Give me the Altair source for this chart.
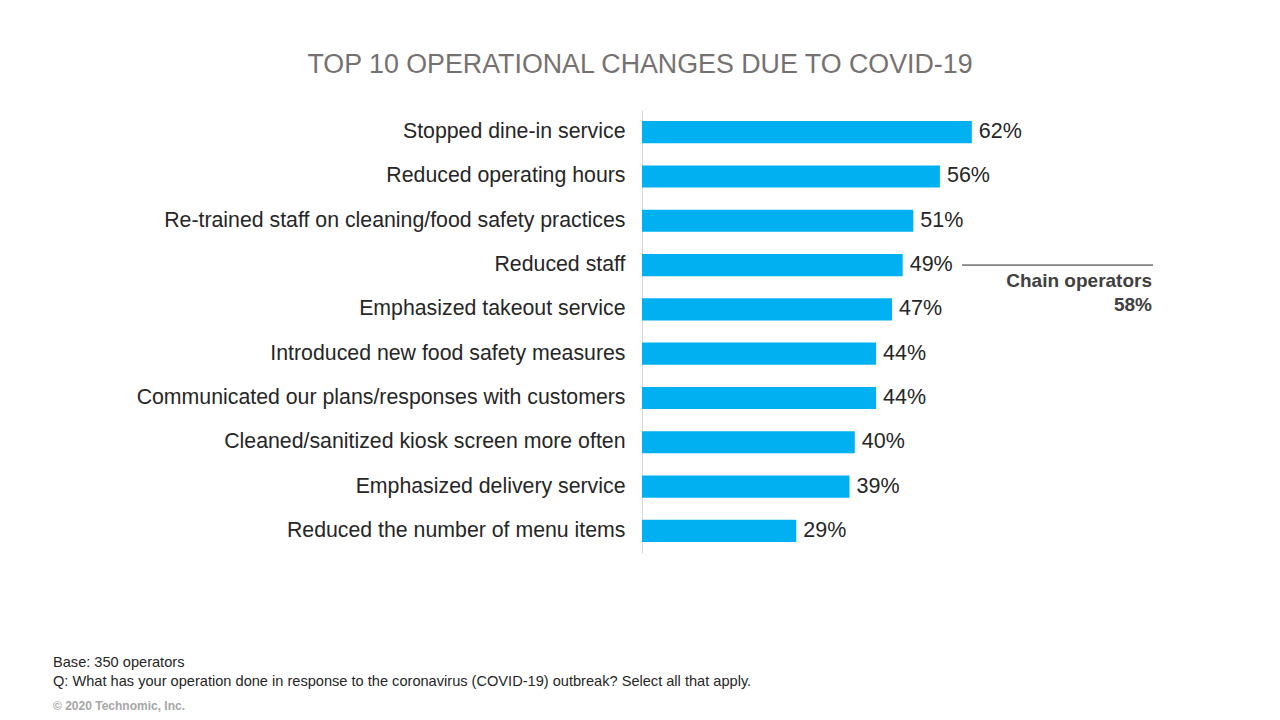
import altair as alt
import pandas as pd

categories = [
    "Stopped dine-in service",
    "Reduced operating hours",
    "Re-trained staff on cleaning/food safety practices",
    "Reduced staff ",
    "Emphasized takeout service",
    "Introduced new food safety measures",
    "Communicated our plans/responses with customers",
    "Cleaned/sanitized kiosk screen more often",
    "Emphasized delivery service",
    "Reduced the number of menu items",
]
values = [62, 56, 51, 49, 47, 44, 44, 40, 39, 29]

title_text = "TOP 10 OPERATIONAL CHANGES DUE TO COVID-19"
foot_lines = [
    "Base: 350 operators",
    "Q: What has your operation done in response to the coronavirus (COVID-19) outbreak? Select all that apply.",
]
copyright_text = "© 2020 Technomic, Inc."
callout_category = "Reduced staff "
callout_lines = ["Chain operators", "58%"]

FONT = "Liberation Sans"

df = pd.DataFrame({"category": categories, "value": values})
df["label"] = df["value"].astype(str) + "%"

y_enc = alt.Y(
    "category:N",
    sort=categories,
    scale=alt.Scale(paddingInner=0.5, paddingOuter=0.25),
    axis=alt.Axis(
        title=None,
        ticks=False,
        labelFontSize=21.3,
        labelColor="#262626",
        labelFont=FONT,
        labelPadding=17,
        labelLimit=600,
        domainColor="#d9d9d9",
        domainWidth=1,
    ),
)
x_enc = alt.X("value:Q", scale=alt.Scale(domain=[0, 100]), axis=None)

bars = alt.Chart(df).mark_bar(color="#00B0F0").encode(x=x_enc, y=y_enc)

labels = alt.Chart(df).mark_text(
    align="left", baseline="middle", dx=7, fontSize=21.5, color="#262626", font=FONT
).encode(x=x_enc, y=y_enc, text="label:N")

call_df = pd.DataFrame({"category": [callout_category]})
call_rule = alt.Chart(call_df).mark_rule(color="#262626", strokeWidth=1).encode(
    x=alt.value(320), x2=alt.value(511), y=alt.Y("category:N", sort=categories)
)

call_text_df = pd.DataFrame({"t": callout_lines, "yy": [171, 195]})
call_text = alt.Chart(call_text_df).mark_text(
    align="right", baseline="middle", fontSize=19, fontWeight="bold", color="#404040", font=FONT
).encode(x=alt.value(510), y=alt.Y("yy:Q", scale=None), text="t:N")

title_df = pd.DataFrame({"t": [title_text]})
title = alt.Chart(title_df).mark_text(
    align="center", baseline="middle", fontSize=26.8, color="#767171", font=FONT
).encode(x=alt.value(-2), y=alt.value(-45), text="t:N")

foot_df = pd.DataFrame({"t": foot_lines, "yy": [557, 576]})
foot = alt.Chart(foot_df).mark_text(
    align="left", baseline="alphabetic", fontSize=14.6, color="#262626", font=FONT
).encode(x=alt.value(-589), y=alt.Y("yy:Q", scale=None), text="t:N")

copy_df = pd.DataFrame({"t": [copyright_text]})
copy = alt.Chart(copy_df).mark_text(
    align="left", baseline="alphabetic", fontSize=12, fontWeight="bold", color="#a6a6a6", font=FONT
).encode(x=alt.value(-589), y=alt.value(600), text="t:N")

chart = (
    alt.layer(bars, labels, call_rule, call_text, title, foot, copy)
    .properties(
        width=532,
        height=443,
        autosize=alt.AutoSizeParams(type="none"),
        padding={"left": 634, "top": 102, "right": 98, "bottom": 159},
        background="white",
    )
    .configure_view(stroke=None)
)

chart.save("out.html", embed_options={"renderer": "svg", "actions": False})
